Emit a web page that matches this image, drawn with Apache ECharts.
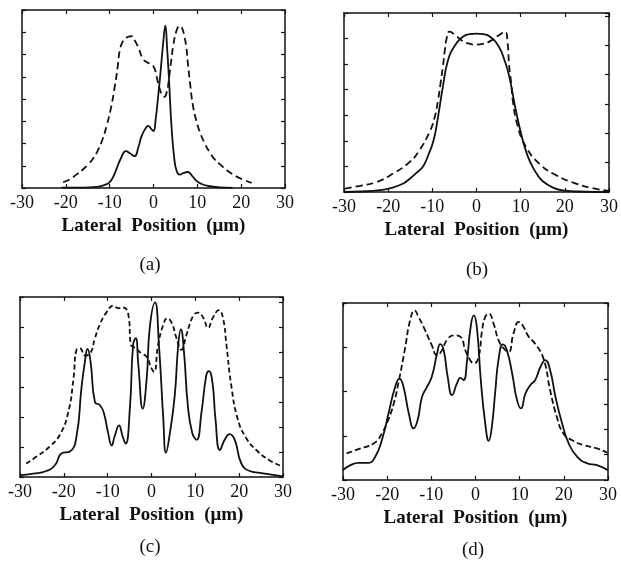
<!DOCTYPE html>
<html>
<head>
<meta charset="utf-8">
<script src="https://cdn.jsdelivr.net/npm/echarts@6/dist/echarts.min.js"></script>
<style>
html, body { margin: 0; padding: 0; background: #fff; }
#chart { width: 621px; height: 561px; }
</style>
</head>
<body>
<div id="chart"></div>
<script>
// x ticks shared by all four panels
var xTicks = [-30, -20, -10, 0, 10, 20, 30];
var captions = ['(a)', '(b)', '(c)', '(d)'];
var xTitle = 'Lateral  Position  (\u03bcm)';

// (a), y in units of the left tick spacing
var aSolid = [[-21,0.02],[-16,0.02],[-13,0.05],[-11,0.15],[-10,0.26],[-9.2,0.5],[-8.5,0.83],[-7.4,1.35],[-6.3,1.66],
  [-5.3,1.55],[-4.3,1.43],[-3.5,1.8],[-2.7,2.34],[-1.9,2.65],[-1.2,2.79],[-0.5,2.65],[0,2.56],[0.5,3.1],[1,4.0],
  [1.6,5.2],[2.2,6.5],[2.7,7.3],[3.1,6.3],[3.5,5.0],[4.1,2.8],[4.7,1.4],[5.3,0.75],[6,0.6],[6.9,0.68],[7.8,0.72],
  [8.8,0.55],[9.8,0.32],[11,0.18],[12.5,0.09],[15,0.03],[18,0.01]];
var aDashed = [[-20.6,0.26],[-19,0.4],[-17.6,0.6],[-16.2,0.82],[-14.9,1.06],[-13.7,1.35],[-12.6,1.73],[-11.6,2.2],
  [-10.7,2.79],[-9.7,3.6],[-8.8,4.6],[-8.2,5.4],[-7.7,6.18],[-7.1,6.55],[-6.5,6.7],[-5.7,6.8],[-5,6.82],[-4.2,6.6],
  [-3.5,6.33],[-2.4,5.8],[-1.5,5.65],[-0.8,5.58],[0.1,5.43],[0.6,5.1],[1,4.75],[1.5,4.4],[2,4.15],[2.5,4.1],[3,4.3],
  [3.4,4.7],[3.7,5.2],[4.1,5.8],[4.5,6.4],[5.3,7.1],[6,7.28],[6.5,7.2],[7,6.86],[7.5,6.3],[7.9,5.5],[8.4,4.6],[9,3.7],
  [9.8,3.0],[10.6,2.5],[11.7,2.0],[12.9,1.58],[14,1.28],[15.2,1.06],[16.7,0.8],[18.2,0.6],[20.2,0.4],[22.4,0.23]];

// (b)
var bSolid = [[-30,0],[-26,0.02],[-22,0.07],[-19,0.17],[-16.6,0.33],[-15.1,0.52],[-13.6,0.75],[-12.1,1.0],[-10.9,1.45],
  [-9.7,2.03],[-8.7,2.95],[-7.6,4.13],[-6.5,5.12],[-5,5.7],[-3,6.08],[-1.5,6.17],[0,6.19],[1.5,6.17],[3,6.08],[5,5.7],
  [6.4,5.12],[7.4,4.53],[8.9,3.2],[10.45,2.03],[11.5,1.45],[12.7,0.98],[14,0.62],[15,0.42],[17,0.2],[19.5,0.06],
  [23,0.02],[30,0]];
var bDashed = [[-29.8,0.13],[-26.4,0.24],[-22.6,0.39],[-18.9,0.72],[-15.1,1.18],[-12.9,1.64],[-10.6,2.36],[-9.5,2.9],
  [-8.7,3.6],[-8.1,4.3],[-7.6,4.92],[-7.2,5.5],[-6.8,5.97],[-6.1,6.27],[-4.6,6.1],[-3.1,5.9],[-1.6,5.8],[0,5.76],
  [1.6,5.8],[3.1,5.9],[4.8,6.1],[6.5,6.27],[7.0,5.9],[7.4,4.92],[7.9,4.2],[8.2,3.6],[9.3,2.6],[11.2,1.77],[14.2,1.11],
  [18,0.66],[22.5,0.33],[26,0.16],[30,0.04]];

// (c)
var cSolid = [[-30,0.06],[-27,0.11],[-24,0.2],[-22,0.4],[-20.5,0.79],[-18.6,0.85],[-17.1,1.36],[-16,2.94],[-15.2,3.84],
  [-14.6,4.27],[-13.9,3.84],[-12.9,2.49],[-11.8,2.4],[-10.9,2.15],[-9.9,1.47],[-9.1,1.05],[-8.4,1.36],[-7.4,1.72],
  [-6.6,1.36],[-5.9,1.11],[-4.9,2.37],[-4.2,4.4],[-3.6,4.63],[-3,3.73],[-2,2.28],[-1.1,3.28],[-0.4,4.97],[0.8,5.82],
  [1.7,4.4],[2.7,1.92],[3.3,0.81],[4.2,1.47],[5.3,2.71],[6.1,4.4],[6.7,4.92],[7.4,4.18],[8.3,2.37],[9.3,1.47],
  [10.3,1.24],[11.4,2.15],[12.5,3.39],[13.1,3.53],[13.9,3.16],[14.6,1.92],[15.6,0.9],[16.7,1.24],[17.8,1.43],
  [19,1.24],[20.5,0.45],[22.4,0.2],[24.7,0.14],[30,0.02]];
var cDashed = [[-28.6,0.45],[-26.2,0.68],[-23.2,1.02],[-20.9,1.41],[-19,2.15],[-17.8,3.28],[-17.1,4.24],[-16.3,4.29],
  [-15.2,4.05],[-14,4.12],[-12.9,4.63],[-11.8,5.08],[-10.3,5.48],[-8.7,5.71],[-7.6,5.63],[-6.5,5.65],[-5.3,5.42],
  [-4.7,4.4],[-4.2,4.35],[-3.3,4.25],[-2.3,4.12],[-1.1,4.01],[0,3.62],[0.6,3.5],[1.5,4.4],[2.7,5.08],[3.6,5.29],
  [4.6,5.14],[5.7,4.63],[6.8,4.24],[8,4.75],[9.5,5.37],[10.6,5.48],[11.8,5.31],[12.9,4.97],[14,5.31],[15.4,5.56],
  [16.3,5.31],[17.1,4.4],[18.2,3.05],[19.7,1.92],[21.6,1.3],[23.9,0.9],[26.9,0.56],[30,0.34]];

// (d) – y in units of the right tick spacing
var dSolid = [[-30,0.39],[-28.3,0.59],[-26.4,0.68],[-24.2,0.68],[-22.7,0.92],[-21.2,1.58],[-19.7,2.63],[-18.2,3.68],
  [-17.2,4.01],[-16.3,3.68],[-15.1,2.63],[-14,2.04],[-13.1,2.37],[-12.1,3.29],[-11,3.68],[-9.9,4.08],[-8.7,5.0],
  [-8,5.37],[-7.2,5.13],[-6.3,4.08],[-5.3,3.36],[-4.2,3.82],[-3.4,4.04],[-2.7,3.95],[-1.9,4.74],[-1.2,5.92],
  [-0.4,6.51],[0.3,6.05],[1.2,3.95],[2.2,2.24],[3,1.55],[3.7,2.1],[4.5,3.55],[5.2,4.74],[6.2,5.36],[7.1,5.13],
  [8.3,4.21],[9.4,3.16],[10.3,2.83],[11.3,3.42],[12.4,3.75],[13.5,3.95],[14.7,4.47],[15.8,4.74],[16.9,4.34],
  [18.1,3.29],[19.6,2.24],[21.1,1.45],[23,0.92],[25.3,0.66],[27.5,0.59],[30,0.39]];
var dDashed = [[-29.2,1.05],[-26,1.25],[-23,1.45],[-21.2,1.84],[-19.7,2.4],[-18.5,3.03],[-17.4,3.88],[-15.9,5.26],
  [-14.8,6.32],[-13.8,6.71],[-12.9,6.45],[-11.4,5.92],[-9.9,5.33],[-8.7,4.93],[-7.6,5.13],[-6.5,5.53],[-4.9,5.72],
  [-3.4,5.66],[-2.3,5.13],[-1.2,4.74],[-0.3,4.61],[0.7,4.87],[1.5,5.92],[2.2,6.45],[3,6.58],[4.1,6.18],[5.2,5.53],
  [6.4,5.2],[7.5,5.07],[8.6,5.79],[9.8,6.25],[10.9,6.05],[12,5.68],[13.5,5.39],[15.4,4.8],[16.9,3.55],[18.4,2.5],
  [19.9,1.84],[21.8,1.58],[24.5,1.38],[27.5,1.25],[29.8,1.08]];

var serif = '"Liberation Serif", "DejaVu Serif", serif';
var ink = '#111';

// plot boxes and tick counts per panel
var panels = [
  { box: [22, 10, 263, 178],  leftMax: 8,  rightMax: 8,   dataAxis: 0, dash: [7, 4], solid: aSolid, dashed: aDashed, cap: [150, 265] },
  { box: [344, 13, 266, 179], leftMax: 7,  rightMax: 6.1, dataAxis: 0, dash: [7, 4], solid: bSolid, dashed: bDashed, cap: [477, 270] },
  { box: [20, 297, 263, 180], leftMax: 6,  rightMax: 7.2, dataAxis: 0, dash: [5, 3], solid: cSolid, dashed: cDashed, cap: [150, 547] },
  { box: [343, 303, 265, 177], leftMax: 4, rightMax: 7,   dataAxis: 1, dash: [6, 3], solid: dSolid, dashed: dDashed, cap: [473, 550] }
];

var grid = [], xAxis = [], yAxis = [], series = [], graphic = [];
var lineAx = { show: true, onZero: false, lineStyle: { color: ink, width: 1.5 } };
var tickIn = { show: true, inside: true, length: 4, lineStyle: { color: ink, width: 1.2 } };

panels.forEach(function (p, i) {
  grid.push({ left: p.box[0], top: p.box[1], width: p.box[2], height: p.box[3] });
  xAxis.push({
    type: 'value', gridIndex: i, min: xTicks[0], max: xTicks[xTicks.length - 1], interval: 10,
    axisLine: lineAx, axisTick: tickIn, splitLine: { show: false },
    axisLabel: { color: ink, fontFamily: serif, fontSize: 18, margin: 6 },
    name: xTitle, nameLocation: 'middle', nameGap: 29,
    nameTextStyle: { color: ink, fontFamily: serif, fontSize: 19, fontWeight: 'bold' }
  });
  xAxis.push({
    type: 'value', gridIndex: i, position: 'top', min: -30, max: 30, interval: 10,
    axisLine: lineAx, axisTick: tickIn, axisLabel: { show: false }, splitLine: { show: false }
  });
  yAxis.push({
    type: 'value', gridIndex: i, position: 'left', min: 0, max: p.leftMax, interval: 1,
    axisLine: lineAx, axisTick: tickIn, axisLabel: { show: false }, splitLine: { show: false }
  });
  yAxis.push({
    type: 'value', gridIndex: i, position: 'right', min: 0, max: p.rightMax, interval: 1,
    axisLine: lineAx, axisTick: tickIn, axisLabel: { show: false }, splitLine: { show: false }
  });
  var yIdx = i * 2 + p.dataAxis;
  series.push({
    type: 'line', xAxisIndex: i * 2, yAxisIndex: yIdx, data: p.solid, smooth: 0.5,
    showSymbol: false, silent: true, lineStyle: { color: ink, width: 1.8 }
  });
  series.push({
    type: 'line', xAxisIndex: i * 2, yAxisIndex: yIdx, data: p.dashed, smooth: 0.5,
    showSymbol: false, silent: true, lineStyle: { color: ink, width: 1.8, type: p.dash }
  });
  graphic.push({
    type: 'text', x: p.cap[0], y: p.cap[1],
    style: { text: captions[i], fill: ink, font: '19px ' + serif, textAlign: 'center', textVerticalAlign: 'middle' }
  });
});

var chart = echarts.init(document.getElementById('chart'));
chart.setOption({
  backgroundColor: '#fff',
  animation: false,
  grid: grid,
  xAxis: xAxis,
  yAxis: yAxis,
  series: series,
  graphic: graphic
});
</script>
</body>
</html>
